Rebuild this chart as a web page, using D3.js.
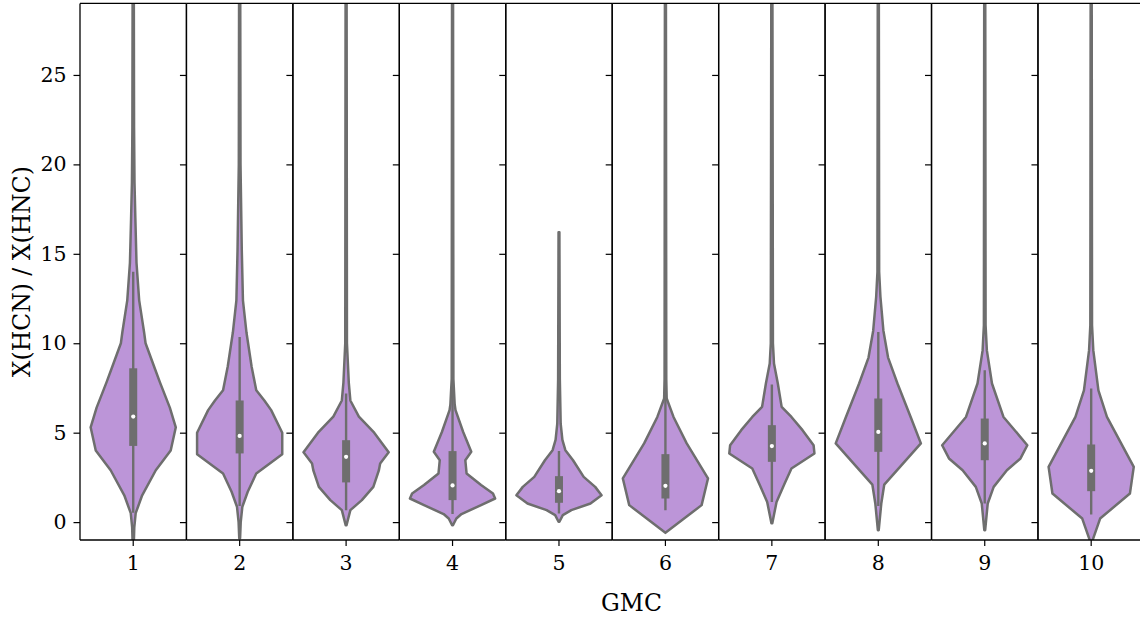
<!DOCTYPE html>
<html>
<head>
<meta charset="utf-8">
<script src="https://cdn.jsdelivr.net/npm/d3@7"></script>
<style>
  html, body { margin: 0; padding: 0; background: #fff; }
  svg { display: block; }
  text { font-family: "DejaVu Serif", serif; fill: #000; }
</style>
</head>
<body>
<svg id="chart" width="1140" height="617"></svg>
<script>
// ---------- data ----------
const gmcs = ["1", "2", "3", "4", "5", "6", "7", "8", "9", "10"];
const yTicks = [0, 5, 10, 15, 20, 25];
const yLabel = "X(HCN) / X(HNC)";
const xLabel = "GMC";

// density profiles: [value, relative density (1 = widest)]
const density1 = [[35,0.01],[22,0.02],[19,0.03],[17,0.05],[14.5,0.077],[12.4,0.14],[10.6,0.256],[10,0.29],[8.7,0.49],[7.8,0.63],[6.4,0.86],[5.3,1],[4.0,0.88],[2.9,0.53],[1.5,0.21],[0.5,0.058],[-0.3,0.025],[-1.5,0.01]];
const density2 = [[35,0.01],[20,0.02],[15.2,0.05],[12.4,0.077],[10.6,0.16],[8.7,0.28],[7.37,0.39],[6.8,0.58],[6.26,0.74],[5.0,1],[3.8,1],[2.72,0.39],[1.7,0.19],[0.86,0.063],[0,0.025],[-0.9,0.01]];
const density3 = [[35,0.01],[10,0.02],[7.8,0.063],[6.8,0.1],[5.9,0.3],[5.0,0.66],[3.9,1],[3.28,0.8],[2.9,0.77],[1.97,0.64],[1.23,0.37],[0.67,0.1],[-0.17,0.01]];
const density4 = [[35,0.01],[8,0.02],[6.6,0.05],[6.26,0.07],[5.04,0.25],[3.93,0.44],[3.46,0.3],[2.72,0.33],[2.07,0.67],[1.6,0.95],[1.32,1],[0.95,0.67],[0.45,0.21],[0.2,0.09],[-0.17,0.01]];
const density5 = [[16.2,0.01],[8,0.02],[5.5,0.04],[4.6,0.08],[4.02,0.15],[3.46,0.33],[2.53,0.58],[1.97,0.85],[1.5,1],[1.04,0.74],[0.67,0.29],[0.39,0.09],[0.02,0.01]];
const density6 = [[35,0.01],[8,0.02],[6.91,0.03],[5.88,0.19],[4.4,0.5],[2.44,1],[0.95,0.85],[-0.6,0.0]];
const density7 = [[35,0.01],[10,0.025],[8.87,0.05],[7.75,0.14],[6.44,0.23],[5.88,0.46],[5.14,0.72],[4.3,0.98],[3.84,1],[3.0,0.46],[2.16,0.3],[1.13,0.11],[-0.07,0.01]];
const density8 = [[35,0.01],[14,0.02],[12.6,0.05],[10.7,0.12],[9.2,0.23],[7.75,0.45],[5.88,0.76],[4.4,1],[2.1,0.14],[1.04,0.07],[-0.45,0.01]];
const density9 = [[35,0.01],[11,0.02],[9.6,0.05],[7.75,0.17],[5.88,0.44],[4.3,1],[3.56,0.84],[2.9,0.52],[1.97,0.21],[1.04,0.07],[-0.45,0.01]];
const density10 = [[35,0.01],[11,0.02],[9.6,0.05],[7.37,0.17],[5.88,0.37],[3.09,1],[1.6,0.91],[0.2,0.21],[-1.1,0.02],[-2,0.01]];
const densities = [density1, density2, density3, density4, density5, density6, density7, density8, density9, density10];

// box statistics
const q1s      = [4.26, 3.84, 2.22, 1.23, 1.08, 1.32, 3.37, 3.93, 3.46, 1.73];
const medians  = [5.9, 4.82, 3.65, 2.05, 1.73, 2.03, 4.25, 5.04, 4.4, 2.87];
const q3s      = [8.6, 6.8, 4.58, 3.97, 2.57, 3.8, 5.42, 6.91, 5.79, 4.34];
const whiskLo  = [0.52, 0.9, 0.67, 0.45, 0.48, 0.67, 1.13, 0.9, 1.04, 0.43];
const whiskHi  = [14.0, 10.35, 7.19, 8.1, 3.98, 7.5, 7.69, 10.63, 8.49, 7.47];

// ---------- layout ----------
const svg = d3.select("#chart");
const plotLeft = 80, plotTop = 3.4, plotBottom = 540, panelW = 106.44;
const fillCol = "#bc95d8", lineCol = "#6e6e6e";
const tickFont = "20.5px", labelFont = "23.5px";

const y = d3.scaleLinear().domain([-1, 29]).range([plotBottom, plotTop]);
const panelX = d3.scaleBand().domain(gmcs).range([plotLeft, plotLeft + panelW * gmcs.length]).paddingInner(0).paddingOuter(0);
const halfW = panelW * 0.8 / 2;
const w = d3.scaleLinear().domain([0, 1]).range([0, halfW]);

const defs = svg.append("defs");

gmcs.forEach((g, i) => {
  const x0 = panelX(g);
  const cx = x0 + panelW / 2;
  const local = d3.scaleBand().domain([g]).range([x0, x0 + panelW]);
  const gp = svg.append("g");

  const clipId = "clip" + i;
  defs.append("clipPath").attr("id", clipId)
    .append("rect").attr("x", x0).attr("y", plotTop).attr("width", panelW).attr("height", plotBottom - plotTop);

  const plot = gp.append("g").attr("clip-path", `url(#${clipId})`);

  const area = d3.area()
    .y(d => y(d[0]))
    .x0(d => cx - w(d[1]))
    .x1(d => cx + w(d[1]))
    .curve(d3.curveLinear);

  plot.append("path")
    .datum(densities[i])
    .attr("d", area)
    .attr("fill", fillCol)
    .attr("stroke", lineCol)
    .attr("stroke-width", 2.5)
    .attr("stroke-linejoin", "round");

  // whisker
  plot.append("line")
    .attr("x1", cx).attr("x2", cx)
    .attr("y1", y(whiskLo[i])).attr("y2", y(whiskHi[i]))
    .attr("stroke", lineCol).attr("stroke-width", 2.4);
  // box
  plot.append("rect")
    .attr("x", cx - 4).attr("width", 8)
    .attr("y", y(q3s[i])).attr("height", y(q1s[i]) - y(q3s[i]))
    .attr("fill", lineCol);
  // median
  plot.append("circle")
    .attr("cx", cx).attr("cy", y(medians[i])).attr("r", 2.1)
    .attr("fill", "#fff");

  // y axis for the panel
  const yAxis = d3.axisLeft(y).tickValues(yTicks).tickSize(6.5).tickPadding(7)
    .tickFormat(i === 0 ? d3.format("d") : () => "");
  const ya = gp.append("g").attr("transform", `translate(${x0},0)`).call(yAxis);
  ya.select(".domain").remove();
  ya.selectAll(".tick line").attr("stroke", "#000").attr("stroke-width", 1.2);
  ya.selectAll("text").style("font-size", tickFont).attr("fill", "#000");

  // x axis
  const xAxis = d3.axisBottom(local).tickSize(6).tickPadding(9);
  const xa = gp.append("g").attr("transform", `translate(0,${plotBottom})`).call(xAxis);
  xa.select(".domain").remove();
  xa.selectAll(".tick line").attr("stroke", "#000").attr("stroke-width", 1.2);
  xa.selectAll("text").style("font-size", tickFont).attr("fill", "#000");

  // spines
  const sp = [[x0, plotTop, x0, plotBottom], [x0, plotBottom, x0 + panelW, plotBottom],
              [x0, plotTop, x0 + panelW, plotTop], [x0 + panelW, plotTop, x0 + panelW, plotBottom]];
  sp.forEach(s => gp.append("line").attr("x1", s[0]).attr("y1", s[1]).attr("x2", s[2]).attr("y2", s[3])
    .attr("stroke", "#000").attr("stroke-width", 1.3));
});

svg.append("text")
  .attr("transform", `translate(30,${(plotTop + plotBottom) / 2}) rotate(-90)`)
  .attr("text-anchor", "middle")
  .style("font-size", labelFont)
  .text(yLabel);

svg.append("text")
  .attr("x", 631.5).attr("y", 611)
  .attr("text-anchor", "middle")
  .style("font-size", labelFont)
  .text(xLabel);
</script>
</body>
</html>
